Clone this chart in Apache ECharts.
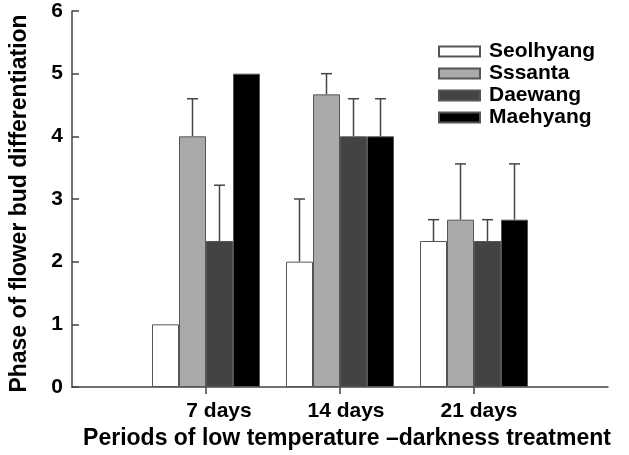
<!DOCTYPE html>
<html>
<head>
<meta charset="utf-8">
<script src="https://cdn.jsdelivr.net/npm/echarts@6/dist/echarts.min.js"></script>
<style>
  html, body { margin: 0; padding: 0; background: #fff; }
  #box { width: 629px; height: 455px; }
</style>
</head>
<body>
<div id="box"></div>
<script>
// categories (empty slots at both ends keep the axis running from 0 to 28 days)
var periods = ['', '7 days', '14 days', '21 days', ''];
var varieties = ['Seolhyang', 'Sssanta', 'Daewang', 'Maehyang'];

// mean phase per variety, one value per period
var seolhyang = ['-', 1, 2, 2.33, '-'];
var sssanta = ['-', 4, 4.67, 2.67, '-'];
var daewang = ['-', 2.33, 4, 2.33, '-'];
var maehyang = ['-', 5, 4, 2.67, '-'];

// top of the error bar (null = no error bar drawn)
var seolhyangErr = [null, null, 3, 2.67, null];
var sssantaErr = [null, 4.6, 5, 3.56, null];
var daewangErr = [null, 3.22, 4.6, 2.67, null];
var maehyangErr = [null, null, 4.6, 3.56, null];

var yTicks = [0, 1, 2, 3, 4, 5, 6];

var means = [seolhyang, sssanta, daewang, maehyang];
var errs = [seolhyangErr, sssantaErr, daewangErr, maehyangErr];
var colors = ['#ffffff', '#aaaaaa', '#434343', '#000000'];
var BAR_W = 27;
var FONT = '"Liberation Sans", Arial, sans-serif';

var errData = [];
errs.forEach(function (arr, s) {
  arr.forEach(function (top, i) {
    if (top != null) errData.push([i, means[s][i], top, s]);
  });
});

var series = varieties.map(function (name, s) {
  return {
    name: name,
    type: 'bar',
    data: means[s],
    barWidth: BAR_W,
    barGap: '0%',
    itemStyle: { color: colors[s], borderColor: '#555', borderWidth: 1 },
    emphasis: { disabled: true }
  };
});

series.push({
  type: 'custom',
  name: 'error',
  data: errData,
  z: 1,
  renderItem: function (params, api) {
    var base = api.coord([api.value(0), api.value(1)]);
    var top = api.coord([api.value(0), api.value(2)]);
    var x = base[0] + (api.value(3) - 1.5) * BAR_W;
    var style = { stroke: '#444', lineWidth: 1.5 };
    return {
      type: 'group',
      children: [
        { type: 'line', shape: { x1: x, y1: base[1], x2: x, y2: top[1] }, style: style },
        { type: 'line', shape: { x1: x - 5.5, y1: top[1], x2: x + 5.5, y2: top[1] }, style: style }
      ]
    };
  }
});

// the period labels sit a little right of their ticks in the figure
var labelPad = { '7 days': 26, '14 days': 12, '21 days': 10 };
var rich = {};
Object.keys(labelPad).forEach(function (k) {
  rich['p' + labelPad[k]] = {
    fontSize: 21, fontWeight: 'bold', color: '#000', fontFamily: FONT,
    padding: [0, 0, 0, labelPad[k]]
  };
});

var chart = echarts.init(document.getElementById('box'));
chart.setOption({
  animation: false,
  backgroundColor: '#fff',
  textStyle: { fontFamily: FONT },
  grid: { left: 72, right: 21, top: 11, bottom: 68, outerBoundsMode: 'none' },
  legend: {
    orient: 'vertical',
    left: 433,
    top: 36,
    itemWidth: 41,
    itemHeight: 10,
    itemGap: 1,
    icon: 'rect',
    data: varieties,
    textStyle: { fontSize: 21, fontWeight: 'bold', color: '#000', fontFamily: FONT, padding: [0, 0, 0, 4] }
  },
  xAxis: {
    type: 'category',
    data: periods,
    boundaryGap: false,
    name: 'Periods of low temperature \u2013darkness treatment',
    nameLocation: 'middle',
    nameGap: 40,
    nameTextStyle: { fontSize: 23, fontWeight: 'bold', color: '#000', fontFamily: FONT, padding: [0, 0, 0, 14] },
    axisLine: { lineStyle: { color: '#444', width: 1.5 } },
    axisTick: {
      length: 7,
      lineStyle: { color: '#444', width: 1.5 },
      interval: function (i) { return i >= 1 && i <= 3; }
    },
    axisLabel: {
      interval: 0,
      margin: 14,
      fontSize: 21,
      fontWeight: 'bold',
      color: '#000',
      formatter: function (v) { return v ? '{p' + labelPad[v] + '|' + v + '}' : ''; },
      rich: rich
    },
    splitLine: { show: false }
  },
  yAxis: {
    type: 'value',
    min: yTicks[0],
    max: yTicks[yTicks.length - 1],
    interval: 1,
    name: 'Phase of flower bud differentiation',
    nameLocation: 'middle',
    nameGap: 41,
    nameRotate: 90,
    nameTextStyle: { fontSize: 23, fontWeight: 'bold', color: '#000', fontFamily: FONT, padding: [0, 9, 0, 0] },
    axisLine: { show: true, lineStyle: { color: '#444', width: 1.5 } },
    axisTick: { show: true, inside: true, length: 7, lineStyle: { color: '#444', width: 1.5 } },
    axisLabel: { margin: 9, fontSize: 21, fontWeight: 'bold', color: '#000' },
    splitLine: { show: false }
  },
  series: series
});
</script>
</body>
</html>
